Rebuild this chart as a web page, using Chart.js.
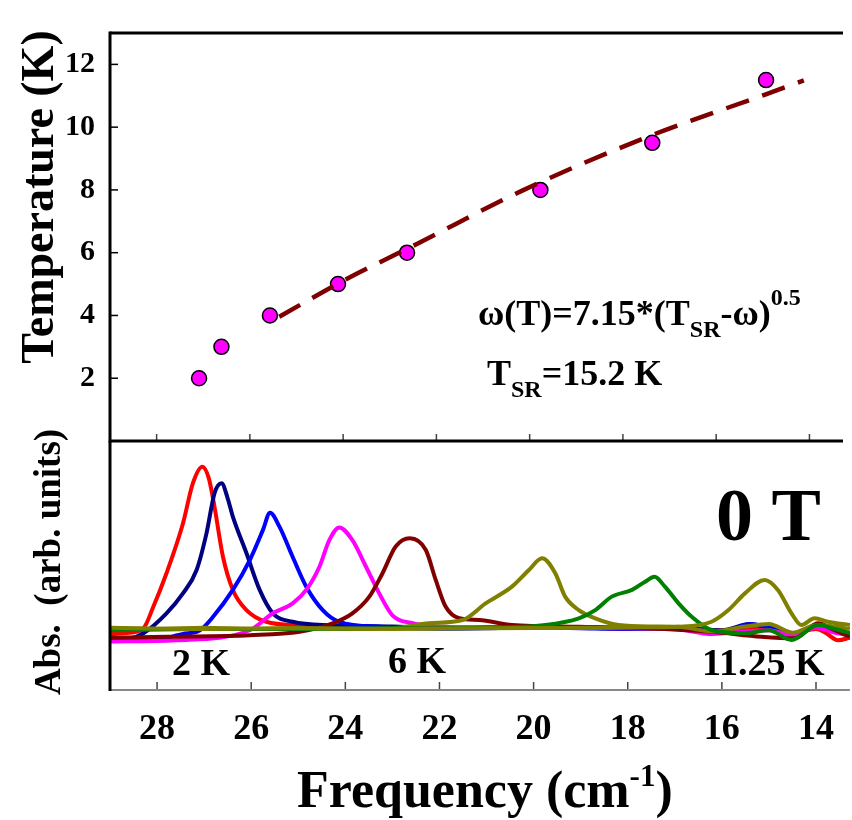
<!DOCTYPE html>
<html>
<head>
<meta charset="utf-8">
<script src="https://cdn.jsdelivr.net/npm/chart.js@4.4.1/dist/chart.umd.min.js"></script>
<style>
  body { margin: 0; background: #fff; }
  #wrap { position: relative; width: 852px; height: 820px; }
  #wrap canvas { position: absolute; left: 0; top: 0; }
</style>
</head>
<body>
<div id="wrap">
  <canvas id="spectra" width="852" height="820"></canvas>
  <canvas id="tempChart" width="852" height="820"></canvas>
</div>
<script>
// Axis ranges and ticks
const xMin = 13.28, xMax = 29;
const freqTicks = [28, 26, 24, 22, 20, 18, 16, 14];
const tempTicks = [2, 4, 6, 8, 10, 12];

// Top panel: peak position vs temperature
const peakFreq = [27.09, 26.61, 25.57, 24.11, 22.63, 19.77, 17.37, 14.93];
const peakTemp = [2, 3, 4, 5, 6, 8, 9.5, 11.5];

// fit curve
const fitFreq = [25.37, 23.99, 22.43, 20.17, 17.49, 14.95, 14.12];
const fitTemp = [3.96, 5.11, 6.27, 7.97, 9.68, 11.04, 11.49];

// Bottom panel: absorption spectra (arb. units)
const redFreq = [29.0, 28.6, 28.29, 28.08, 27.8, 27.45, 27.24, 27.04, 26.9, 26.78, 26.6, 26.39, 26.1, 25.68, 24.97, 24.0, 23.0, 22.0, 21.0, 20.0, 19.0, 18.0, 17.0, 16.0, 15.5, 15.0, 14.5, 14.0, 13.8, 13.53, 13.28];
const redAbs  = [22.5, 23.0, 24.8, 33.4, 46.9, 66.9, 83.0, 89.7, 85.0, 73.6, 53.5, 40.2, 32.1, 27.4, 26.0, 25.5, 25.2, 25.0, 25.2, 25.3, 25.0, 24.8, 24.6, 24.0, 24.3, 25.0, 22.5, 24.5, 23.0, 20.0, 21.0];

const navyFreq = [29.0, 28.6, 28.29, 27.8, 27.45, 27.16, 26.95, 26.78, 26.63, 26.5, 26.39, 26.1, 25.82, 25.54, 25.12, 24.27, 23.0, 22.0, 21.0, 20.0, 19.0, 18.0, 17.0, 16.0, 15.4, 15.0, 14.5, 14.0, 13.6, 13.28];
const navyAbs  = [20.0, 20.5, 22.8, 30.8, 38.8, 48.2, 62.9, 79.0, 83.0, 77.0, 69.6, 54.9, 40.2, 30.8, 27.4, 26.0, 25.5, 25.0, 25.0, 25.2, 25.0, 24.8, 25.0, 24.0, 26.5, 25.0, 22.0, 26.0, 24.0, 22.5];

const blueFreq = [29.0, 28.15, 27.45, 27.09, 26.81, 26.39, 26.03, 25.75, 25.6, 25.4, 25.12, 24.83, 24.48, 24.13, 23.21, 22.0, 21.0, 20.0, 19.0, 18.0, 17.0, 16.0, 15.4, 15.0, 14.5, 14.0, 13.6, 13.28];
const blueAbs  = [20.0, 20.0, 22.5, 24.0, 29.4, 40.2, 52.2, 64.3, 71.2, 65.6, 53.5, 41.5, 32.1, 27.4, 25.4, 24.6, 24.8, 25.2, 24.8, 24.5, 24.8, 23.5, 26.5, 25.0, 22.0, 25.5, 23.5, 22.0];

const magFreq = [29.0, 27.59, 26.03, 25.54, 25.12, 24.83, 24.55, 24.34, 24.13, 23.85, 23.56, 23.28, 23.0, 22.57, 22.0, 21.0, 20.0, 19.0, 18.0, 17.0, 16.2, 15.5, 15.0, 14.5, 14.0, 13.6, 13.28];
const magAbs  = [19.5, 20.0, 24.0, 30.8, 34.8, 40.2, 49.5, 60.2, 65.3, 60.2, 49.5, 38.8, 30.0, 26.8, 25.5, 25.0, 25.2, 25.0, 24.8, 24.5, 22.5, 23.5, 24.0, 22.0, 25.0, 23.0, 22.0];

const maroonFreq = [29.0, 27.8, 26.03, 24.97, 24.27, 23.85, 23.49, 23.21, 22.93, 22.63, 22.29, 22.08, 21.87, 21.58, 21.16, 20.46, 19.04, 17.63, 16.22, 15.16, 14.45, 13.96, 13.6, 13.28];
const maroonAbs  = [21.0, 21.4, 22.0, 23.4, 26.8, 30.8, 37.5, 46.9, 57.6, 60.9, 56.2, 44.2, 33.5, 28.8, 28.1, 26.1, 25.4, 24.8, 23.4, 21.4, 20.8, 26.8, 24.0, 21.4];

const olive1Freq = [29.0, 28.0, 27.0, 26.0, 25.0, 24.0, 23.0, 22.22, 21.51, 21.02, 20.46, 20.10, 19.82, 19.54, 19.33, 19.04, 18.69, 18.19, 17.5, 16.92, 16.2, 15.5, 15.0, 14.5, 14.0, 13.6, 13.28];
const olive1Abs  = [24.5, 24.5, 25.0, 24.5, 24.8, 24.5, 24.8, 26.8, 28.1, 34.8, 41.5, 48.2, 52.9, 46.9, 37.5, 32.1, 28.8, 26.1, 25.5, 25.4, 23.5, 25.5, 26.5, 23.0, 26.0, 25.5, 24.5];

const greenFreq = [29.0, 27.0, 25.0, 23.0, 21.0, 19.75, 19.04, 18.69, 18.34, 17.91, 17.63, 17.43, 17.21, 16.92, 16.64, 16.22, 15.51, 15.0, 14.52, 13.96, 13.6, 13.28];
const greenAbs  = [24.0, 24.5, 24.5, 24.8, 25.0, 26.1, 28.8, 32.1, 37.5, 40.2, 43.5, 45.5, 41.5, 34.8, 29.4, 24.1, 22.8, 24.0, 20.1, 26.1, 24.5, 22.9];

const olive2Freq = [29.0, 27.0, 25.0, 23.0, 21.0, 19.0, 17.5, 16.92, 16.22, 15.86, 15.51, 15.09, 14.81, 14.52, 14.31, 14.03, 13.75, 13.28];
const olive2Abs  = [25.0, 24.5, 24.8, 24.5, 24.8, 25.0, 25.2, 25.4, 27.4, 32.1, 38.8, 44.2, 40.2, 30.8, 26.1, 28.8, 27.4, 26.1];

const serif = "'Liberation Serif', 'Times New Roman', serif";
Chart.defaults.font.family = serif;
Chart.defaults.font.weight = 'bold';
Chart.defaults.color = '#000';

function pts(xs, ys) {
    return xs.map((x, i) => ({ x: x, y: ys[i] }));
}

function line(ctx, x1, y1, x2, y2, w, c) {
    ctx.beginPath();
    ctx.lineWidth = w;
    ctx.strokeStyle = c;
    ctx.moveTo(x1, y1);
    ctx.lineTo(x2, y2);
    ctx.stroke();
}

// draw text made of runs (for sub/superscripts), left aligned
function rich(ctx, x, y, parts) {
    let cx = x;
    ctx.textAlign = 'left';
    ctx.textBaseline = 'alphabetic';
    parts.forEach(([t, size, dy]) => {
        ctx.font = `bold ${size}px ${serif}`;
        ctx.fillText(t, cx, y + dy);
        cx += ctx.measureText(t).width;
    });
}

const topFrame = {
    id: 'topFrame',
    afterDraw(chart) {
        const { ctx, chartArea: a, scales: { x, y } } = chart;
        ctx.save();
        tempTicks.forEach(v => {
            const py = y.getPixelForValue(v);
            line(ctx, a.left, py, a.left + 8, py, 1.5, '#000');
        });
        freqTicks.forEach(v => {
            const px = x.getPixelForValue(v);
            line(ctx, px, a.bottom, px, a.bottom - 7, 1.5, '#444');
        });
        line(ctx, a.left, a.top, a.right, a.top, 3, '#000');
        line(ctx, a.left, a.top - 1.5, a.left, a.bottom + 1.5, 3, '#000');
        line(ctx, a.left, a.bottom, a.right, a.bottom, 3, '#000');

        ctx.fillStyle = '#000';
        rich(ctx, 478, 325, [['ω(T)=7.15*(T', 36, 0], ['SR', 24, 12], ['-ω)', 36, 0], ['0.5', 24, -20]]);
        rich(ctx, 487, 385, [['T', 36, 0], ['SR', 24, 12], ['=15.2 K', 36, 0]]);

        ctx.font = `bold 46px ${serif}`;
        ctx.textAlign = 'center';
        ctx.translate(53, 197);
        ctx.rotate(-Math.PI / 2);
        ctx.fillText('Temperature (K)', 0, 0);
        ctx.restore();
    }
};

const bottomFrame = {
    id: 'bottomFrame',
    afterDraw(chart) {
        const { ctx, chartArea: a, scales: { x } } = chart;
        ctx.save();
        freqTicks.forEach(v => {
            const px = x.getPixelForValue(v);
            line(ctx, px, a.bottom, px, a.bottom - 8, 1.5, '#444');
        });
        line(ctx, a.left, a.bottom, a.right, a.bottom, 2, '#888');
        line(ctx, a.left, a.top, a.left, a.bottom + 1, 3, '#000');

        ctx.fillStyle = '#000';
        rich(ctx, 172, 675, [['2 K', 38, 0]]);
        rich(ctx, 388, 673, [['6 K', 38, 0]]);
        rich(ctx, 702, 675, [['11.25 K', 38, 0]]);
        rich(ctx, 716, 540, [['0 T', 74, 0]]);
        rich(ctx, 297, 807, [['Frequency (cm', 52, 0], ['-1', 31, -21], [')', 52, 0]]);

        ctx.font = `bold 37px ${serif}`;
        ctx.textAlign = 'center';
        ctx.translate(60, 562);
        ctx.rotate(-Math.PI / 2);
        ctx.fillText('Abs.  (arb. units)', 0, 0);
        ctx.restore();
    }
};

// Top chart: temperature vs frequency
new Chart(document.getElementById('tempChart'), {
    type: 'scatter',
    data: {
        datasets: [{
            type: 'line',
            data: pts(fitFreq, fitTemp),
            borderColor: '#7f0000',
            borderWidth: 4.5,
            borderDash: [24, 14],
            pointRadius: 0,
            cubicInterpolationMode: 'monotone',
            order: 0
        }, {
            data: pts(peakFreq, peakTemp),
            backgroundColor: '#ff00ff',
            borderColor: '#000',
            borderWidth: 1.5,
            pointRadius: 7.5,
            order: 1
        }]
    },
    options: {
        responsive: false,
        animation: false,
        events: [],
        layout: { padding: { top: 10, right: 0, bottom: 379, left: 0 } },
        plugins: { legend: { display: false }, tooltip: { enabled: false } },
        scales: {
            x: { type: 'linear', display: false, reverse: true, min: xMin, max: xMax },
            y: {
                min: 0, max: 13,
                afterBuildTicks: s => { s.ticks = tempTicks.map(v => ({ value: v })); },
                afterFit: s => { s.width = 110; },
                grid: { display: false, drawTicks: false },
                border: { display: false },
                ticks: { padding: 15, font: { size: 30, weight: 'bold' } }
            }
        }
    },
    plugins: [topFrame]
});

// Bottom chart: spectra
const spectra = [
    [redFreq, redAbs, '#ff0000'],
    [navyFreq, navyAbs, '#000080'],
    [blueFreq, blueAbs, '#0000ff'],
    [magFreq, magAbs, '#ff00ff'],
    [maroonFreq, maroonAbs, '#800000'],
    [olive1Freq, olive1Abs, '#808000'],
    [greenFreq, greenAbs, '#008000'],
    [olive2Freq, olive2Abs, '#808000']
];

new Chart(document.getElementById('spectra'), {
    type: 'line',
    data: {
        datasets: spectra.map(([f, a, c], i) => ({
            data: pts(f, a),
            borderColor: c,
            borderWidth: 4,
            pointRadius: 0,
            cubicInterpolationMode: 'monotone',
            order: spectra.length - i
        }))
    },
    options: {
        responsive: false,
        animation: false,
        events: [],
        layout: { padding: { top: 441, right: 0, bottom: 0, left: 0 } },
        plugins: { legend: { display: false }, tooltip: { enabled: false } },
        scales: {
            x: {
                type: 'linear', reverse: true, min: xMin, max: xMax,
                afterBuildTicks: s => { s.ticks = freqTicks.map(v => ({ value: v })); },
                afterFit: s => { s.height = 130; },
                grid: { display: false, drawTicks: false },
                border: { display: false },
                ticks: { padding: 18, font: { size: 36, weight: 'bold' } }
            },
            y: {
                min: 0, max: 100,
                afterFit: s => { s.width = 110; },
                ticks: { display: false },
                grid: { display: false, drawTicks: false },
                border: { display: false }
            }
        }
    },
    plugins: [bottomFrame]
});
</script>
</body>
</html>
